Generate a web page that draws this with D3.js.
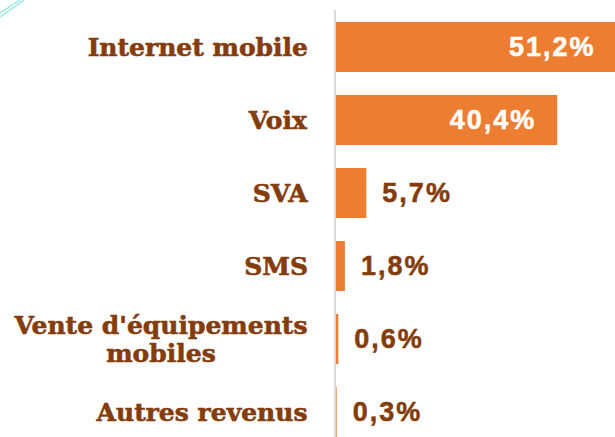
<!DOCTYPE html>
<html>
<head>
<meta charset="utf-8">
<script src="https://cdn.jsdelivr.net/npm/d3@7"></script>
<style>
	body { margin: 0; background: #fff; }
	svg { display: block; }
</style>
</head>
<body>
<script>
var categories = ["Internet mobile", "Voix", "SVA", "SMS", "Vente d'équipements\nmobiles", "Autres revenus"];
var shares = [51.2, 40.4, 5.7, 1.8, 0.6, 0.3];
var shareLabels = ["51,2%", "40,4%", "5,7%", "1,8%", "0,6%", "0,3%"];

var width = 615,
	height = 437;

var svg = d3.select("body")
			.append("svg")
			.attr("width", width)
			.attr("height", height);

// little teal decoration in the top-left corner
svg.append("g")
	.attr("stroke", "#8de8e0")
	.attr("stroke-width", 1.2)
	.selectAll("line")
	.data([0, 4])
	.enter()
	.append("line")
	.attr("x1", 0).attr("y1", function(d) { return 13 + d; })
	.attr("x2", function(d) { return 20 + d; }).attr("y2", 0);

var x = d3.scaleLinear()
	.domain([0, 50])
	.range([335, 610]);

var y = d3.scaleBand()
	.domain(categories)
	.range([10.5, 448.5])
	.paddingInner(0.315)
	.paddingOuter(0.1575);

// bars
svg.selectAll("rect.bar")
	.data(shares)
	.enter()
	.append("rect")
	.attr("class", "bar")
	.attr("x", x(0))
	.attr("y", function(d, i) { return y(categories[i]); })
	.attr("width", function(d) { return x(d) - x(0); })
	.attr("height", y.bandwidth())
	.style("fill", "#ed7d31");

// vertical axis line
svg.append("line")
	.attr("x1", x(0)).attr("x2", x(0))
	.attr("y1", 10).attr("y2", height)
	.attr("stroke", "#d9d9d9")
	.attr("stroke-width", 2);

// category labels
var labels = svg.selectAll("text.cat")
	.data(categories)
	.enter()
	.append("text")
	.attr("class", "cat")
	.attr("text-anchor", "middle")
	.style("font-family", "'DejaVu Serif', serif")
	.style("font-weight", "bold")
	.style("font-size", "25px")
	.style("fill", "#843c0c")
	.style("stroke", "#843c0c")
	.style("stroke-width", "0.6px");

labels.each(function(d) {
	var lines = d.split("\n");
	var node = d3.select(this);
	var cy = y(d) + y.bandwidth() / 2;
	var top = cy - (lines.length - 1) * 14 + 9;
	lines.forEach(function(line, k) {
		node.append("tspan")
			.attr("x", 0)
			.attr("y", top + k * 28)
			.text(line);
	});
});

// right-align the label block on x=308, lines centred on each other
labels.each(function() {
	var w = this.getBBox().width;
	d3.select(this).selectAll("tspan").attr("x", 308 - w / 2);
});

// value labels
svg.selectAll("text.val")
	.data(shares)
	.enter()
	.append("text")
	.attr("class", "val")
	.attr("x", function(d) { return d > 20 ? x(d) - 21 : x(d) + 16; })
	.attr("y", function(d, i) { return y(categories[i]) + y.bandwidth() / 2 + 9; })
	.attr("text-anchor", function(d) { return d > 20 ? "end" : "start"; })
	.style("font-family", "'Liberation Sans', Arial, sans-serif")
	.style("font-weight", "bold")
	.style("font-size", "27px")
	.style("letter-spacing", "2px")
	.style("fill", function(d) { return d > 20 ? "#ffffff" : "#843c0c"; })
	.style("stroke", function(d) { return d > 20 ? "#ffffff" : "#843c0c"; })
	.style("stroke-width", "0.5px")
	.text(function(d, i) { return shareLabels[i]; });
</script>
</body>
</html>
